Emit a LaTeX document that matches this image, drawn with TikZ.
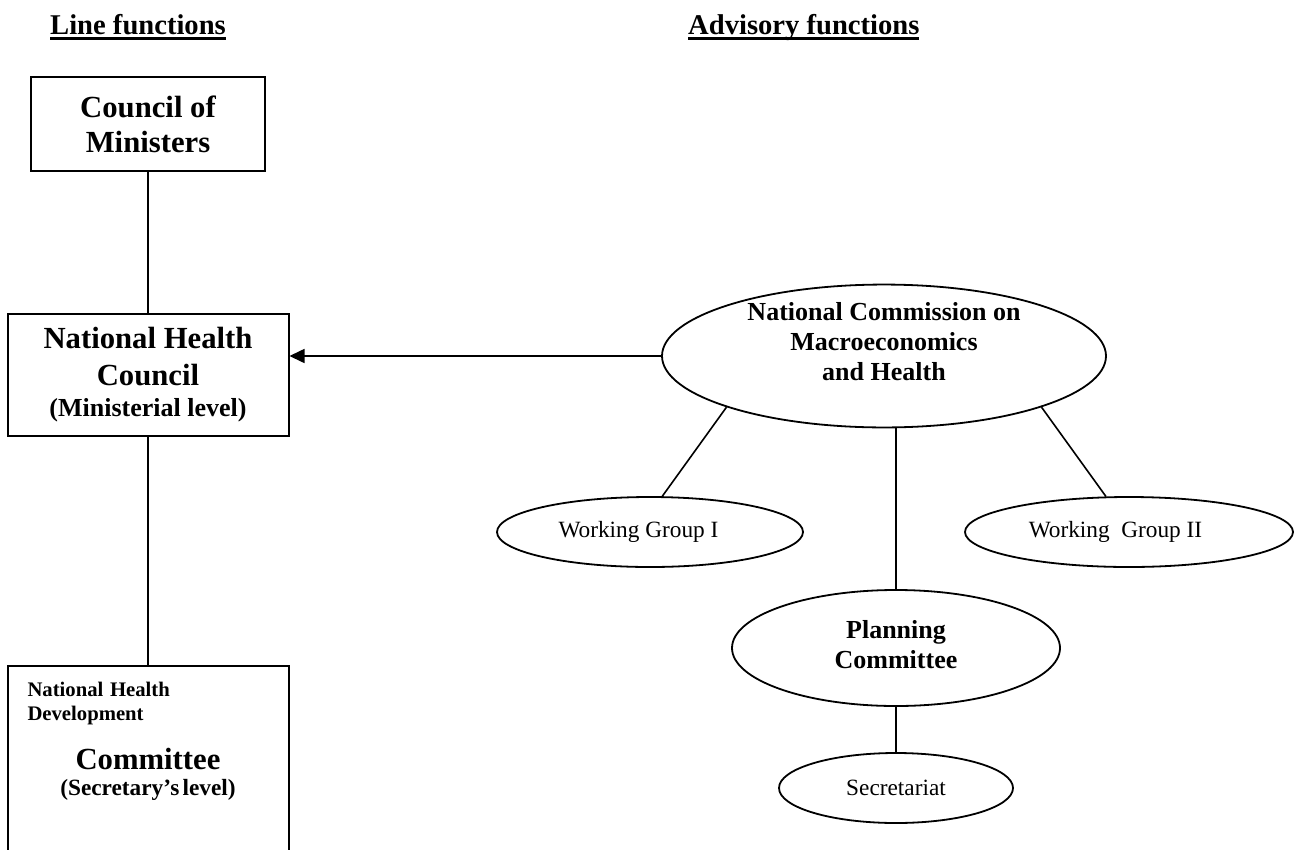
\documentclass[tikz,border=0pt]{standalone}
\usepackage{fontspec}
\setmainfont{Liberation Serif}
\usetikzlibrary{arrows.meta,shapes.geometric}
\tikzstyle{link}=[draw=black,line width=1.6pt]
\tikzstyle{feed}=[link,-{Triangle[length=15pt,width=14pt]}]
\newcommand{\titleline}[1]{\setbox0=\hbox{#1}\rlap{\copy0}\raisebox{-5.5pt}{\rule{\wd0}{3pt}}}

\begin{document}
\begin{tikzpicture}[x=1pt,y=-1pt]
    \tikzstyle{line box}=[rectangle,draw=black,line width=2pt,inner sep=0pt,align=flush center]
    \tikzstyle{advice}=[ellipse,draw=black,line width=1.8pt,inner sep=0pt,align=center]
    \tikzstyle{heading}=[anchor=base west,inner sep=0pt,font=\fontsize{28.6}{32}\selectfont\bfseries]
    \tikzstyle{small advice}=[advice,minimum height=70pt,font=\fontsize{23.3}{27}\selectfont]

    \useasboundingbox (0,0) rectangle (1301,849);

    % column titles
    \node[heading] (lineTitle) at (50,34) {\titleline{Line functions}};
    \node[heading] (adviceTitle) at (688,34) {\titleline{Advisory functions}};

    % line functions
    \node[line box, minimum width=234pt, minimum height=94pt, text width=220pt,
          font=\fontsize{30.7}{35}\selectfont\bfseries] (council) at (148,124) {Council of\\Ministers};
    \node[line box, minimum width=281pt, minimum height=122pt, text width=270pt] (nhc) at (148,375)
        {{\fontsize{30.7}{37}\selectfont\bfseries National Health\\Council\par}%
         {\fontsize{26}{31}\selectfont\bfseries (Ministerial level)\par}};
    \node[line box, anchor=north, minimum width=281pt, text width=241pt, align=left,
          inner xsep=20pt, inner ysep=16pt] (ndc) at (148,665)
        {{\fontsize{20.7}{24}\selectfont\bfseries National\ \ Health\\Development\par}%
         {\centering\fontsize{30.7}{49}\selectfont\bfseries Committee\par}%
         {\centering\fontsize{23.3}{26}\selectfont\bfseries (Secretary's level)\rule[-200pt]{0pt}{0pt}\par}};

    % advisory functions
    \node[advice, minimum width=444pt, minimum height=142pt, inner ysep=-3pt,
          font=\fontsize{26}{30}\selectfont\bfseries] (ncmh) at (884,356)
        {National Commission on\\Macroeconomics\\and Health\rule[-29pt]{0pt}{0pt}};
    \node[small advice, minimum width=306pt] (wg1) at (650,532) {Working Group I\hspace{23pt}};
    \node[small advice, minimum width=328pt] (wg2) at (1129,532) {Working\ \ Group II\hspace{27pt}};
    \node[advice, minimum width=328pt, minimum height=116pt,
          font=\fontsize{26}{30}\selectfont\bfseries] (planning) at (896,648)
        {Planning\\Committee\rule[-7pt]{0pt}{0pt}};
    \node[small advice, minimum width=234pt] (secretariat) at (896,788) {Secretariat};

    % connect the nodes
    \draw[link] (council.south) -- (nhc.north);
    \draw[link] (nhc.south) -- (ndc.north);
    \draw[feed] (ncmh.west) -- (ncmh.west -| nhc.east);
    \draw[link] (ncmh.198) -- (wg1.71);
    \draw[link] (ncmh.-18) -- (wg2.123);
    \draw[link] (ncmh.south -| planning.north) -- (planning.north);
    \draw[link] (planning.south) -- (secretariat.north);
\end{tikzpicture}
\end{document}
